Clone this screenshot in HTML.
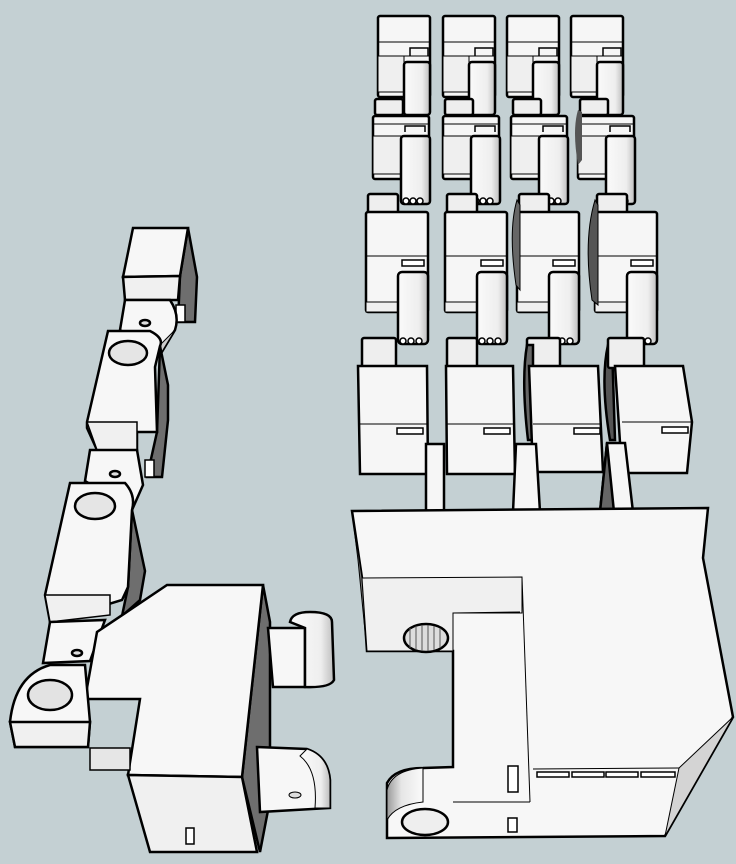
<!DOCTYPE html>
<html><head><meta charset="utf-8"><style>
html,body{margin:0;padding:0;background:#c4d0d3;}
svg{display:block}
</style></head><body>
<svg width="736" height="864" viewBox="0 0 736 864" xmlns="http://www.w3.org/2000/svg">
<defs>
<linearGradient id="cyl" x1="0" x2="1" y1="0" y2="0"><stop offset="0" stop-color="#fafafa"/><stop offset="0.7" stop-color="#eeeeee"/><stop offset="1" stop-color="#bdbdbd"/></linearGradient>
<linearGradient id="cylL" x1="0" x2="1"><stop offset="0" stop-color="#9a9a9a"/><stop offset="0.4" stop-color="#e6e6e6"/><stop offset="1" stop-color="#fafafa"/></linearGradient>
<g id="seg1">
  <rect x="0" y="0" width="52" height="81" rx="2" fill="#f6f6f6" stroke="#000" stroke-width="2.5"/>
  <line x1="0" y1="26" x2="52" y2="26" stroke="#000" stroke-width="1"/>
  <line x1="0" y1="40" x2="52" y2="40" stroke="#000" stroke-width="1"/>
  <path d="M32 40 V32 H50 V40" fill="none" stroke="#000" stroke-width="1.5"/>
  <rect x="0" y="40" width="26" height="36" fill="#efefef" stroke="#000" stroke-width="1"/>
  <rect x="26" y="46" width="26" height="53" rx="3" fill="url(#cyl)" stroke="#000" stroke-width="2.5"/>
</g>
<g id="seg2">
  <rect x="2" y="-3" width="28" height="16" rx="2" fill="#eeeeee" stroke="#000" stroke-width="2.5"/>
  <rect x="0" y="14" width="56" height="63" rx="2" fill="#f6f6f6" stroke="#000" stroke-width="2.5"/>
  <line x1="0" y1="22" x2="56" y2="22" stroke="#000" stroke-width="1"/>
  <path d="M32 30 V24 H52 V30" fill="none" stroke="#000" stroke-width="1.5"/>
  <rect x="0" y="34" width="28" height="38" fill="#efefef" stroke="#000" stroke-width="1"/>
  <rect x="28" y="34" width="29" height="68" rx="3" fill="url(#cyl)" stroke="#000" stroke-width="2.5"/>
  <circle cx="33" cy="99" r="3" fill="#fff" stroke="#000" stroke-width="1.5"/>
  <circle cx="40" cy="99" r="3" fill="#fff" stroke="#000" stroke-width="1.5"/>
  <circle cx="47" cy="99" r="3" fill="#fff" stroke="#000" stroke-width="1.5"/>
</g>
<g id="seg3">
  <rect x="2" y="-18" width="30" height="20" rx="2" fill="#eeeeee" stroke="#000" stroke-width="2.5"/>
  <rect x="0" y="0" width="62" height="100" rx="2" fill="#f6f6f6" stroke="#000" stroke-width="2.5"/>
  <line x1="0" y1="44" x2="62" y2="44" stroke="#000" stroke-width="1"/>
  <rect x="36" y="48" width="22" height="6" fill="#fff" stroke="#000" stroke-width="1.5"/>
  <rect x="0" y="90" width="32" height="10" fill="#efefef" stroke="#000" stroke-width="1"/>
  <rect x="32" y="60" width="30" height="72" rx="4" fill="url(#cyl)" stroke="#000" stroke-width="2.5"/>
  <circle cx="37" cy="129" r="3" fill="#fff" stroke="#000" stroke-width="1.5"/>
  <circle cx="45" cy="129" r="3" fill="#fff" stroke="#000" stroke-width="1.5"/>
  <circle cx="53" cy="129" r="3" fill="#fff" stroke="#000" stroke-width="1.5"/>
</g>
</defs>

<use href="#seg1" x="378" y="16"/><use href="#seg1" x="443" y="16"/><use href="#seg1" x="507" y="16"/><use href="#seg1" x="571" y="16"/>
<use href="#seg2" x="373" y="102"/><use href="#seg2" x="443" y="102"/><use href="#seg2" x="511" y="102"/><use href="#seg2" x="578" y="102"/>
<path d="M578 110 Q572 130 578 165 L582 160 V112Z" fill="#555"/>
<use href="#seg3" x="366" y="212"/><use href="#seg3" x="445" y="212"/><use href="#seg3" x="517" y="212"/><use href="#seg3" x="595" y="212"/>
<path d="M595 200 Q583 240 592 300 L598 305 V205Z" fill="#555" stroke="#000"/>
<path d="M517 200 Q508 230 516 285 L520 290 V205Z" fill="#666" stroke="#000"/>

<g stroke="#000" stroke-width="2.5">
  <rect x="362" y="338" width="34" height="30" rx="2" fill="#eee"/>
  <rect x="447" y="338" width="30" height="30" rx="2" fill="#eee"/>
  <rect x="527" y="338" width="33" height="30" rx="2" fill="#eee"/>
  <path d="M608 345 Q600 380 610 440 L615 440 L612 345Z" fill="#555"/>
  <path d="M527 345 Q521 380 528 440 L533 440 V345Z" fill="#666"/>
  <rect x="608" y="338" width="36" height="30" rx="2" fill="#eee"/>
  <path d="M358 366 H427 L428 474 H360Z" fill="#f6f6f6"/>
  <path d="M446 366 H513 L515 474 H447Z" fill="#f6f6f6"/>
  <path d="M529 366 H598 L603 472 H533Z" fill="#f6f6f6"/>
  <path d="M615 366 H683 L692 422 L687 473 H622Z" fill="#f6f6f6"/>
</g>
<g stroke="#000" stroke-width="1">
  <line x1="358" y1="424" x2="427" y2="424"/><line x1="447" y1="424" x2="514" y2="424"/>
  <line x1="533" y1="424" x2="601" y2="424"/><line x1="622" y1="422" x2="692" y2="422"/>
  <rect x="397" y="428" width="26" height="6" fill="#fff" stroke-width="1.5"/>
  <rect x="484" y="428" width="26" height="6" fill="#fff" stroke-width="1.5"/>
  <rect x="574" y="428" width="26" height="6" fill="#fff" stroke-width="1.5"/>
  <rect x="662" y="427" width="26" height="6" fill="#fff" stroke-width="1.5"/>
</g>

<g stroke="#000" stroke-width="2.5">
  <path d="M426 444 H444 V512 H426Z" fill="#f6f6f6"/>
  <path d="M516 444 H536 L540 512 H513Z" fill="#f6f6f6"/>
  <path d="M607 443 H625 L633 512 H600Z" fill="#f6f6f6"/>
  <path d="M607 443 L600 512 L614 512Z" fill="#666"/>
  <path d="M352 511 L708 508 L703 558 L733 717 L665 836 L387 838 L387 783 Q395 768 423 768 L453 767 L453 651 L367 651 L362 578Z" fill="#f7f7f7"/>
  <path d="M352 511 L362 578 L367 651 L358 560Z" fill="#777" stroke-width="1"/>
  <path d="M679 768 L733 717 L665 836Z" fill="#d4d4d4" stroke-width="1"/>
  <path d="M362 578 L522 577 L522 613 L453 613 L453 651 L367 651Z" fill="#f0f0f0" stroke-width="1"/>
  <path d="M522 577 L530 802" stroke-width="1" fill="none"/>
  <path d="M453 613 L520 612" stroke-width="1" fill="none"/>
  <path d="M453 802 L530 802" stroke-width="1" fill="none"/>
  <path d="M533 769 L679 768" stroke-width="1" fill="none"/>
  <path d="M387 838 V790 Q392 770 423 768 L423 802 Q395 805 387 820" fill="url(#cylL)" stroke-width="1"/>
  <line x1="423" y1="768" x2="423" y2="802" stroke-width="1"/>
  <ellipse cx="425" cy="822" rx="23" ry="13" fill="#eee"/>
  <ellipse cx="426" cy="638" rx="22" ry="14" fill="#ddd"/>
  <rect x="508" y="766" width="10" height="26" fill="#fff" stroke-width="1.5"/>
  <rect x="508" y="818" width="9" height="14" fill="#fff" stroke-width="1.5"/>
</g>
<g stroke="#000" stroke-width="1.5" fill="#fff">
  <rect x="537" y="772" width="32" height="5"/><rect x="572" y="772" width="32" height="5"/>
  <rect x="606" y="772" width="32" height="5"/><rect x="641" y="772" width="34" height="5"/>
</g>
<g stroke="#555" stroke-width="1"><line x1="410" y1="628" x2="410" y2="648"/><line x1="416" y1="626" x2="416" y2="650"/><line x1="422" y1="625" x2="422" y2="651"/><line x1="428" y1="625" x2="428" y2="651"/><line x1="434" y1="626" x2="434" y2="650"/><line x1="440" y1="628" x2="440" y2="648"/></g>

<g stroke="#000" stroke-width="2.5">
  <path d="M188 228 L197 277 L195 322 L178 322 L180 276Z" fill="#6e6e6e"/>
  <path d="M133 228 L188 228 L180 276 L123 277Z" fill="#f7f7f7"/>
  <path d="M123 277 L180 276 L178 300 L125 300Z" fill="#f0f0f0"/>
  <rect x="176" y="305" width="9" height="17" fill="#fff" stroke-width="1.5"/>
  <path d="M125 300 L170 300 Q180 315 175 330 L160 355 L120 330Z" fill="#f7f7f7"/>
  <path d="M175 330 L160 355 L155 350 Z" fill="#ccc" stroke-width="1"/>
  <ellipse cx="145" cy="323" rx="5" ry="3" fill="#ddd"/>
  <path d="M160 346 L168 385 L168 420 L162 477 L147 477 L157 432Z" fill="#6e6e6e"/>
  <path d="M108 331 L150 331 Q164 338 160 346 L155 367 L157 432 L137 432 L137 450 L97 450 L87 428 L87 422Z" fill="#f7f7f7"/>
  <path d="M87 422 L137 422 L137 450 L97 450Z" fill="#f0f0f0" stroke-width="1.5"/>
  <ellipse cx="128" cy="353" rx="19" ry="12" fill="#e5e5e5"/>
  <rect x="145" y="460" width="9" height="17" fill="#fff" stroke-width="1.5"/>
  <path d="M90 450 L137 450 L143 485 L132 510 L85 481Z" fill="#f7f7f7"/>
  <ellipse cx="115" cy="474" rx="5" ry="3" fill="#ddd"/>
  <path d="M132 510 L145 571 L140 600 L122 616 L128 587Z" fill="#6e6e6e"/>
  <path d="M70 483 L125 483 Q136 495 132 510 L128 587 L122 600 L50 622 L45 595Z" fill="#f7f7f7"/>
  <path d="M45 595 L110 595 L110 615 L50 622Z" fill="#f0f0f0" stroke-width="1.5"/>
  <ellipse cx="95" cy="506" rx="20" ry="13" fill="#e5e5e5"/>
  <path d="M50 622 L105 620 L90 661 L43 663Z" fill="#f7f7f7"/>
  <ellipse cx="77" cy="653" rx="5" ry="3" fill="#ddd"/>
  <path d="M263 585 L270 622 L270 800 L260 852 L242 777Z" fill="#6e6e6e"/>
  <path d="M167 585 L263 585 L242 777 L128 775 L140 699 L85 699 L97 632Z" fill="#f7f7f7"/>
  <path d="M128 775 L242 777 L257 852 L150 852Z" fill="#f0f0f0"/>
  <path d="M90 748 L130 748 L130 770 L90 770Z" fill="#e6e6e6" stroke-width="1.5"/>
  <rect x="186" y="828" width="8" height="16" fill="#fff" stroke-width="1.5"/>
  <path d="M10 722 Q15 675 50 665 L85 665 L90 722 L88 747 L15 747Z" fill="#f7f7f7"/>
  <path d="M10 722 L90 722 L88 747 L15 747Z" fill="#f0f0f0"/>
  <ellipse cx="50" cy="695" rx="22" ry="15" fill="#e3e3e3"/>
  <path d="M268 628 L305 628 L305 687 L273 687Z" fill="#f7f7f7"/>
  <path d="M290 622 Q292 612 310 612 Q332 612 332 622 L334 680 Q330 688 305 687 L305 628Z" fill="url(#cyl)"/>
  <path d="M257 747 L307 749 Q328 756 330 780 L330 808 L260 812Z" fill="#f7f7f7"/>
  <path d="M307 749 Q328 756 330 780 L330 808 L315 808 Q318 770 300 756Z" fill="url(#cyl)" stroke-width="1"/>
  <ellipse cx="295" cy="795" rx="6" ry="3" fill="#ddd" stroke-width="1"/>
</g>
</svg>
</body></html>
